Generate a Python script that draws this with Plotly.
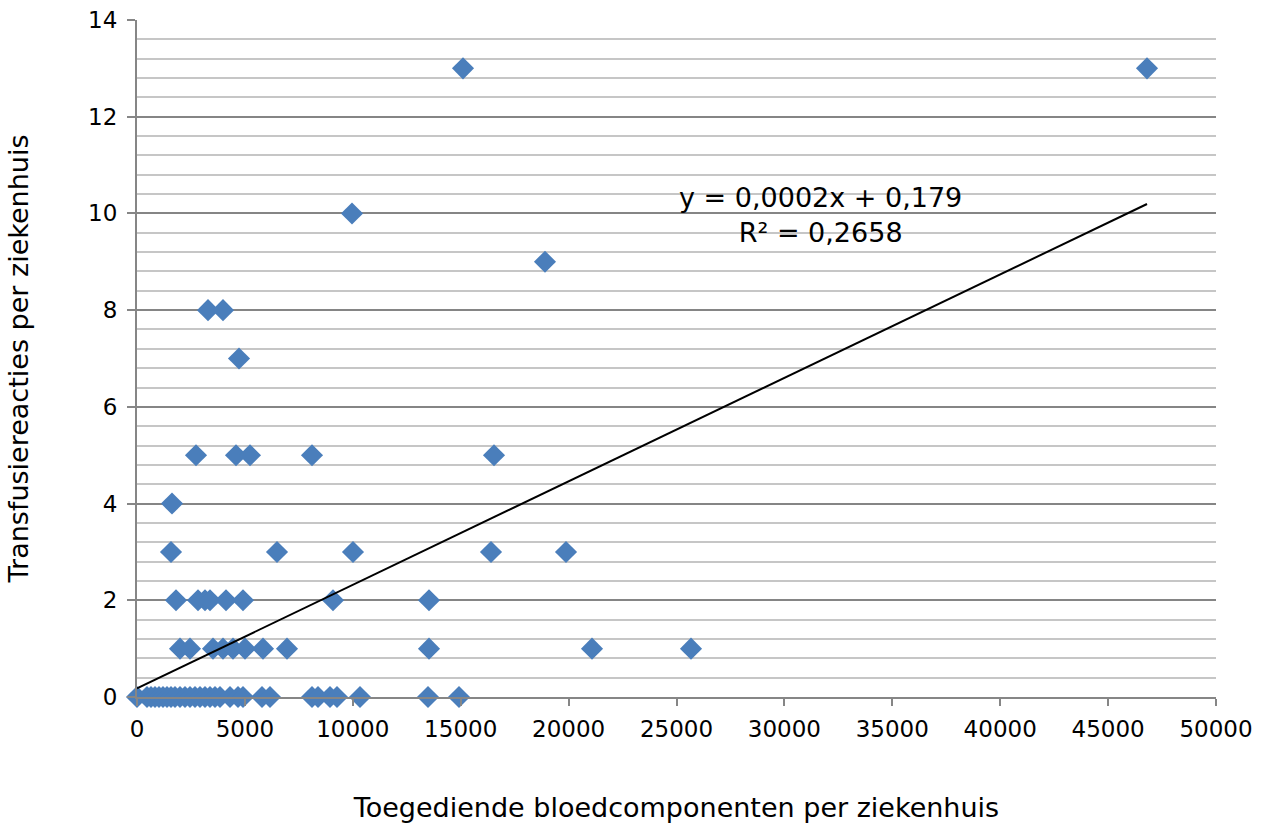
import plotly.graph_objects as go

# Data: (blood components per hospital, transfusion reactions)
x_r0 = [0, 463, 649, 834, 1019, 1205, 1390, 1576, 1761, 1993, 2224, 2456, 2688, 2919, 3151,
        3383, 3614, 3846, 4310, 4680, 4912, 5792, 6163, 8109, 8387, 8943, 9268, 10334, 13485, 14921]
x_r1 = [1993, 2456, 3522, 3985, 4449, 5005, 5839, 6951, 13531, 21085, 25672]
x_r2 = [1807, 2827, 3151, 3383, 4124, 4912, 9083, 13531]
x_r3 = [1576, 6488, 10009, 16404, 19880]
x_r4 = [1622]
x_r5 = [2734, 4588, 5236, 8109, 16543]
x_r7 = [4727]
x_r8 = [3290, 3985]
x_r9 = [18906]
x_r10 = [9963]
x_r13 = [15107, 46803]

groups = [(x_r0, 0), (x_r1, 1), (x_r2, 2), (x_r3, 3), (x_r4, 4), (x_r5, 5), (x_r7, 7),
          (x_r8, 8), (x_r9, 9), (x_r10, 10), (x_r13, 13)]

x_vals = [x for xs, _ in groups for x in xs]
y_vals = [y for xs, y in groups for _ in xs]

TREND_SLOPE = 0.000214
TREND_INTERCEPT = 0.179
trend_label = "y = 0,0002x + 0,179<br>R² = 0,2658"

x_title = "Toegediende bloedcomponenten per ziekenhuis"
y_title = "Transfusiereacties per ziekenhuis"

FONT = "DejaVu Sans"
FS_TICK = 23
FS_TEXT = 27

trend_x = [0, max(x_vals)]
trend_y = [TREND_INTERCEPT + TREND_SLOPE * v for v in trend_x]

fig = go.Figure()
fig.add_trace(go.Scatter(
    x=x_vals, y=y_vals, mode="markers",
    marker=dict(symbol="diamond", size=17, color="#4A7EBB", line=dict(width=0)),
    cliponaxis=False, showlegend=False,
))
fig.add_trace(go.Scatter(
    x=trend_x, y=trend_y, mode="lines",
    line=dict(color="black", width=2), showlegend=False,
))

fig.add_annotation(
    x=31650, y=9.96, xref="x", yref="y", text=trend_label, showarrow=False,
    align="center", font=dict(family=FONT, size=FS_TEXT, color="black"),
)

fig.update_layout(
    width=1271, height=826, autosize=False,
    margin=dict(l=137, r=55, t=20, b=129),
    paper_bgcolor="white", plot_bgcolor="white",
    font=dict(family=FONT, size=FS_TICK, color="black"),
    xaxis=dict(
        range=[0, 50000], dtick=5000, tick0=0, tickformat="d", showgrid=False, zeroline=False,
        showline=True, linecolor="#868686", linewidth=2, automargin=False,
        ticks="outside", ticklen=7, tickcolor="#868686", tickwidth=1.5,
        ticklabelstandoff=3,
        title=dict(text=x_title, standoff=58, font=dict(family=FONT, size=FS_TEXT)),
        tickfont=dict(family=FONT, size=FS_TICK),
    ),
    yaxis=dict(
        range=[0, 14], dtick=2, tick0=0, showgrid=True, gridcolor="#858585", gridwidth=1.5,
        zeroline=False, showline=True, linecolor="#868686", linewidth=2, automargin=False,
        ticks="outside", ticklen=8, tickcolor="#868686", tickwidth=1.5,
        ticklabelstandoff=5,
        minor=dict(dtick=0.4, showgrid=True, gridcolor="#C6C6C6", gridwidth=1.5, ticks=""),
        title=dict(text=y_title, standoff=52, font=dict(family=FONT, size=FS_TEXT)),
        tickfont=dict(family=FONT, size=FS_TICK),
    ),
)

fig.write_html("out.html")
